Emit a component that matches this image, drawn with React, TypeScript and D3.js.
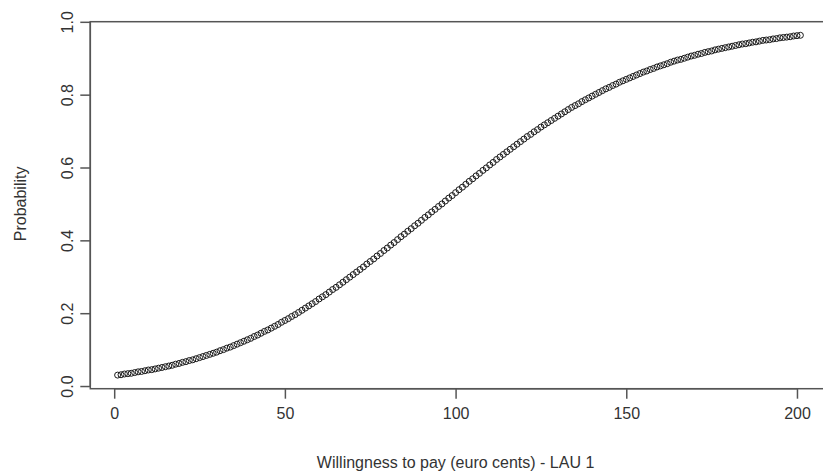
import React, { useEffect, useRef } from "react";
import * as d3 from "d3";

// willingness to pay, euro cents
const wtp: number[] = d3.range(1, 202);

// predicted probability at every cent
const probability: number[] = [
  0.030, 0.031, 0.033, 0.034, 0.035, 0.037, 0.039, 0.040, 0.042, 0.044,
  0.045, 0.047, 0.049, 0.051, 0.053, 0.055, 0.057, 0.060, 0.062, 0.065,
  0.067, 0.070, 0.072, 0.075, 0.078, 0.081, 0.084, 0.087, 0.090, 0.093,
  0.097, 0.100, 0.104, 0.107, 0.111, 0.115, 0.119, 0.123, 0.127, 0.131,
  0.136, 0.140, 0.145, 0.150, 0.154, 0.159, 0.164, 0.169, 0.175, 0.180,
  0.185, 0.191, 0.196, 0.202, 0.208, 0.214, 0.220, 0.226, 0.232, 0.239,
  0.245, 0.251, 0.258, 0.265, 0.271, 0.278, 0.285, 0.292, 0.299, 0.306,
  0.313, 0.320, 0.327, 0.335, 0.342, 0.349, 0.357, 0.364, 0.372, 0.379,
  0.387, 0.394, 0.402, 0.410, 0.417, 0.425, 0.432, 0.440, 0.447, 0.455,
  0.463, 0.470, 0.478, 0.485, 0.493, 0.500, 0.508, 0.516, 0.523, 0.531,
  0.539, 0.546, 0.554, 0.562, 0.569, 0.577, 0.584, 0.592, 0.599, 0.607,
  0.614, 0.622, 0.629, 0.636, 0.643, 0.650, 0.657, 0.664, 0.671, 0.678,
  0.685, 0.691, 0.698, 0.704, 0.711, 0.717, 0.723, 0.729, 0.735, 0.741,
  0.747, 0.753, 0.759, 0.765, 0.770, 0.775, 0.781, 0.786, 0.791, 0.796,
  0.801, 0.806, 0.811, 0.816, 0.820, 0.825, 0.829, 0.834, 0.838, 0.842,
  0.846, 0.850, 0.854, 0.858, 0.862, 0.865, 0.869, 0.872, 0.876, 0.879,
  0.882, 0.885, 0.889, 0.892, 0.895, 0.897, 0.900, 0.903, 0.906, 0.908,
  0.911, 0.913, 0.916, 0.918, 0.920, 0.923, 0.925, 0.927, 0.929, 0.931,
  0.933, 0.935, 0.937, 0.939, 0.940, 0.942, 0.944, 0.945, 0.947, 0.949,
  0.950, 0.951, 0.953, 0.954, 0.956, 0.957, 0.958, 0.959, 0.961, 0.962,
  0.963,
];

const xTicks = [0, 50, 100, 150, 200];
const yTicks = [0, 0.2, 0.4, 0.6, 0.8, 1.0];
const xTitle = "Willingness to pay (euro cents) - LAU 1";
const yTitle = "Probability";

const width = 823;
const height = 471;
const margin = { top: 21.7, right: -4.7, bottom: 82.3, left: 90.3 };
const font = "'Liberation Sans', Arial, sans-serif";
const ink = "#333";

function App() {
  const ref = useRef<SVGSVGElement>(null);

  useEffect(() => {
    const node = ref.current;
    if (!node) return;
    const svg = d3.select(node);
    svg.selectAll("*").remove();

    // R style: 4% padding around the data range
    const [x0, x1] = d3.extent(wtp) as [number, number];
    const [y0, y1] = d3.extent(probability) as [number, number];
    const px = (x1 - x0) * 0.04;
    const py = (y1 - y0) * 0.04;

    const x = d3.scaleLinear()
      .domain([x0 - px, x1 + px])
      .range([margin.left, width - margin.right]);
    const y = d3.scaleLinear()
      .domain([y0 - py, y1 + py])
      .range([height - margin.bottom, margin.top]);

    const bottom = height - margin.bottom;

    svg.append("rect")
      .attr("x", margin.left)
      .attr("y", margin.top)
      .attr("width", width - margin.right - margin.left)
      .attr("height", bottom - margin.top)
      .attr("fill", "none")
      .attr("stroke", "#555")
      .attr("stroke-width", 1.5);

    const xAxis = svg.append("g")
      .attr("transform", `translate(0,${bottom})`)
      .call(d3.axisBottom(x).tickValues(xTicks).tickSize(10).tickSizeOuter(0).tickPadding(9))
      .call(g => g.select(".domain").remove());
    xAxis.append("line")
      .attr("x1", x(xTicks[0])).attr("x2", x(xTicks[xTicks.length - 1]))
      .attr("stroke", "#555").attr("stroke-width", 1.5);

    const yAxis = svg.append("g")
      .attr("transform", `translate(${margin.left},0)`)
      .call(d3.axisLeft(y).tickValues(yTicks).tickSize(10).tickSizeOuter(0).tickFormat(d3.format(".1f")))
      .call(g => g.select(".domain").remove());
    yAxis.append("line")
      .attr("y1", y(yTicks[0])).attr("y2", y(yTicks[yTicks.length - 1]))
      .attr("stroke", "#555").attr("stroke-width", 1.5);
    yAxis.selectAll(".tick text")
      .attr("x", null)
      .attr("dy", null)
      .attr("text-anchor", "middle")
      .attr("transform", "translate(-23,0) rotate(-90)")
      .attr("dominant-baseline", "central");

    svg.selectAll(".tick line").attr("stroke", "#555").attr("stroke-width", 1.5);
    svg.selectAll(".tick text")
      .attr("fill", ink)
      .style("font-family", font)
      .style("font-size", "16px");

    svg.append("g")
      .selectAll("circle")
      .data(wtp)
      .join("circle")
      .attr("cx", (d) => x(d))
      .attr("cy", (_, i) => y(probability[i]))
      .attr("r", 3)
      .attr("fill", "none")
      .attr("stroke", "#1a1a1a")
      .attr("stroke-width", 1);

    svg.append("text")
      .attr("x", (x(0) + x(200)) / 2)
      .attr("y", 462)
      .attr("text-anchor", "middle")
      .attr("dominant-baseline", "central")
      .attr("fill", ink)
      .style("font-family", font)
      .style("font-size", "16px")
      .text(xTitle);

    svg.append("text")
      .attr("transform", `translate(20,${(y(0) + y(1)) / 2}) rotate(-90)`)
      .attr("text-anchor", "middle")
      .attr("dominant-baseline", "central")
      .attr("fill", ink)
      .style("font-family", font)
      .style("font-size", "16px")
      .text(yTitle);
  }, []);

  return (
    <svg
      ref={ref}
      width={width}
      height={height}
      style={{ position: "absolute", left: 0, top: 0, background: "#fff" }}
    />
  );
}

export default App;
